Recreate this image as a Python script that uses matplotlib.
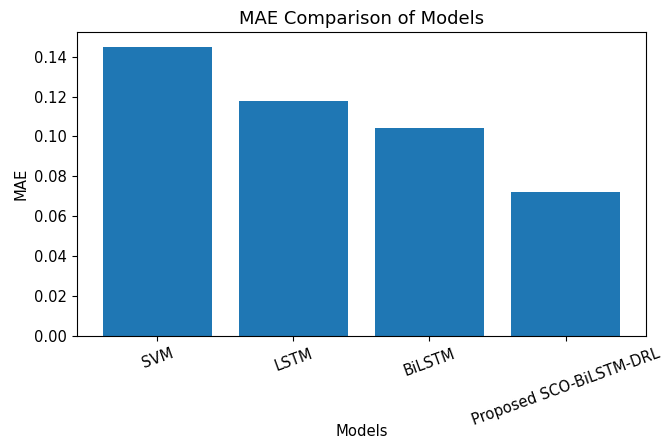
import matplotlib
matplotlib.use("Agg")
import matplotlib.pyplot as plt

models = ["SVM", "LSTM", "BiLSTM", "Proposed SCO-BiLSTM-DRL"]
mae = [0.145, 0.118, 0.104, 0.072]

plt.rcParams["font.size"] = 10.6

fig = plt.figure(figsize=(6.61, 4.4), dpi=100)
ax = fig.add_axes([0.1165, 0.236, 0.8605, 0.691])
ax.bar(models, mae, color="#1f77b4")
ax.set_title("MAE Comparison of Models", fontsize=13)
ax.set_xlabel("Models")
ax.xaxis.set_label_coords(0.5, -0.29)
ax.set_ylabel("MAE")
plt.xticks(rotation=20)

fig.savefig("out.png", dpi=100)
